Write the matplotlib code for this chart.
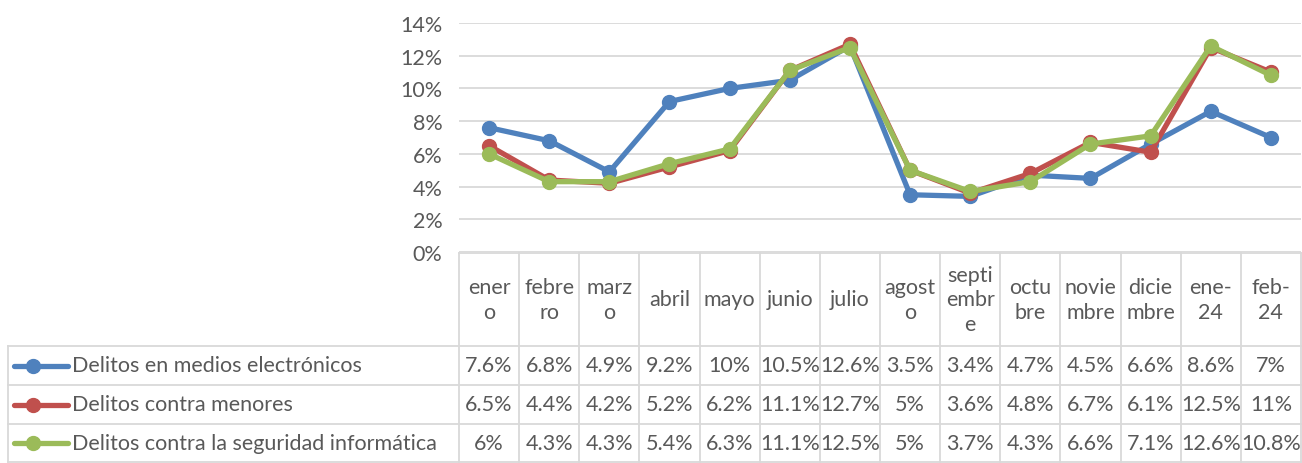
import matplotlib
matplotlib.use("Agg")
import matplotlib.pyplot as plt
from matplotlib.transforms import blended_transform_factory
from matplotlib.ticker import PercentFormatter

plt.rcParams["font.family"] = ["Lato", "DejaVu Sans"]

months = ["ener\no", "febre\nro", "marz\no", "abril", "mayo", "junio", "julio",
          "agost\no", "septi\nembr\ne", "octu\nbre", "novie\nmbre", "dicie\nmbre",
          "ene-\n24", "feb-\n24"]

electronicos = [7.6, 6.8, 4.9, 9.2, 10, 10.5, 12.6, 3.5, 3.4, 4.7, 4.5, 6.6, 8.6, 7]
menores = [6.5, 4.4, 4.2, 5.2, 6.2, 11.1, 12.7, 5, 3.6, 4.8, 6.7, 6.1, 12.5, 11]
seguridad = [6, 4.3, 4.3, 5.4, 6.3, 11.1, 12.5, 5, 3.7, 4.3, 6.6, 7.1, 12.6, 10.8]

series = [
    ("Delitos en medios electrónicos", electronicos, "#4F81BD"),
    ("Delitos contra menores", menores, "#C0504D"),
    ("Delitos contra la seguridad informática", seguridad, "#9BBB59"),
]

TXT = "#595959"
GRID = "#D9D9D9"
FS = 15.5
W, H = 1302, 464

fig = plt.figure(figsize=(W / 100, H / 100), dpi=100)

# pixel helper axes for the data table underneath
tab = fig.add_axes([0, 0, 1, 1])
tab.set_xlim(0, W)
tab.set_ylim(H, 0)
tab.axis("off")

x0, x1 = 459, 1301
y_top, y_bot = 24, 253
ax = fig.add_axes([x0 / W, (H - y_bot) / H, (x1 - x0) / W, (y_bot - y_top) / H])
ax.set_facecolor("none")

xs = list(range(len(months)))
for name, vals, color in series:
    ax.plot(xs, [v / 100 for v in vals], color=color, lw=3.8, marker="o",
            markersize=10, solid_capstyle="round", clip_on=False, zorder=3)

ax.set_xlim(-0.5, len(months) - 0.5)
ax.set_ylim(0, 0.14)
ax.set_yticks([i / 100 for i in range(0, 15, 2)])
ax.yaxis.set_major_formatter(PercentFormatter(1.0, decimals=0))
ax.tick_params(axis="y", length=0, pad=12, labelsize=FS, labelcolor=TXT)
ax.set_xticks([])
ax.grid(axis="y", color=GRID, lw=1.3)
for s in ax.spines.values():
    s.set_visible(False)

# table geometry (pixels)
head_top, head_bot = 254, 347
row_lines = [347, 386, 425, 463]
left = 8
bt = blended_transform_factory(ax.transData, tab.transData)

# vertical cell borders
for i in range(len(months) + 1):
    tab.plot([i - 0.5, i - 0.5], [head_top, row_lines[-1]], color=GRID, lw=1.3,
             transform=bt, clip_on=False)
tab.plot([left, left], [row_lines[0], row_lines[-1]], color=GRID, lw=1.3)
tab.plot([x0, x1], [head_top, head_top], color=GRID, lw=1.3)
for y in row_lines:
    tab.plot([left, x1], [y, y], color=GRID, lw=1.3)

# header labels
for i, m in enumerate(months):
    tab.text(i, (head_top + head_bot) / 2, m, transform=bt, ha="center", va="center",
             fontsize=FS, color=TXT, linespacing=1.3)

# rows
for r, (name, vals, color) in enumerate(series):
    yc = (row_lines[r] + row_lines[r + 1]) / 2
    tab.plot([14, 68], [yc, yc], color=color, lw=3.8, solid_capstyle="round")
    tab.plot([33], [yc], marker="o", color=color, markersize=10)
    tab.text(72, yc, name, ha="left", va="center", fontsize=FS, color=TXT)
    for i, v in enumerate(vals):
        lbl = f"{v:g}%"
        tab.text(i, yc, lbl, transform=bt, ha="center", va="center",
                 fontsize=FS, color=TXT)

fig.savefig("out.png", dpi=100)
